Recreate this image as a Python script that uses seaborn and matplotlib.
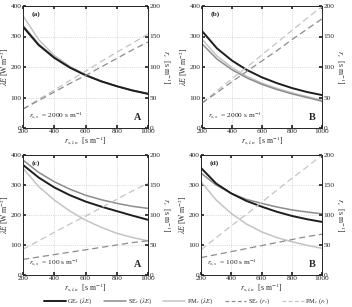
import numpy as np
import pandas as pd
import matplotlib
matplotlib.use("Agg")
import matplotlib.pyplot as plt
import seaborn as sns
from matplotlib.lines import Line2D

# ---------------- data ----------------
r_sln = [200, 300, 400, 500, 600, 700, 800, 900, 1000]

# panel (a)  r_ss = 2000, scheme A
a_GE_LE = [332, 272, 230, 198, 173, 153, 137, 123, 112]
a_SE_LE = [336, 275, 232, 199, 174, 154, 137, 124, 113]
a_PM_LE = [368, 290, 238, 202, 175, 154, 137, 123, 111]
a_SE_rc = [31, 45, 59, 73, 86, 100, 114, 128, 141]
a_PM_rc = [31, 47, 62, 78, 93, 109, 124, 139, 154]

# panel (b)  r_ss = 2000, scheme B
b_GE_LE = [318, 261, 221, 190, 166, 147, 131, 118, 108]
b_SE_LE = [276, 226, 191, 164, 143, 126, 112, 100, 88]
b_PM_LE = [291, 236, 198, 169, 147, 130, 115, 103, 91]
b_SE_rc = [41, 58, 76, 93, 110, 127, 145, 162, 179]
b_PM_rc = [41, 61, 81, 100, 120, 140, 160, 180, 199]

# panel (c)  r_ss = 100, scheme A
c_GE_LE = [367, 325, 292, 266, 245, 228, 213, 198, 184]
c_SE_LE = [383, 342, 311, 286, 266, 251, 239, 229, 222]
c_PM_LE = [356, 295, 250, 213, 183, 159, 139, 125, 114]
c_SE_rc = [26, 30, 34, 38, 42, 46, 50, 54, 57]
c_PM_rc = [43, 57, 71, 85, 98, 112, 126, 140, 153]

# panel (d)  r_ss = 100, scheme B
d_GE_LE = [357, 305, 272, 247, 228, 211, 197, 186, 177]
d_SE_LE = [340, 300, 272, 252, 239, 227, 217, 210, 204]
d_PM_LE = [311, 250, 205, 170, 144, 125, 111, 99, 89]
d_SE_rc = [29, 34, 39, 44, 49, 54, 59, 64, 68]
d_PM_rc = [42, 62, 82, 101, 121, 141, 161, 180, 200]

panel_letters = ["(a)", "(b)", "(c)", "(d)"]
scheme_labels = ["A", "B", "A", "B"]
rss_labels = ["2000", "2000", "100", "100"]
legend_labels = [r"GE$_c$ ($\lambda E$)", r"SE$_c$ ($\lambda E$)", r"PM$_c$ ($\lambda E$)",
                 r"SE$_c$ ($r_c$)", r"PM$_c$ ($r_c$)"]

panels = [
    (a_GE_LE, a_SE_LE, a_PM_LE, a_SE_rc, a_PM_rc),
    (b_GE_LE, b_SE_LE, b_PM_LE, b_SE_rc, b_PM_rc),
    (c_GE_LE, c_SE_LE, c_PM_LE, c_SE_rc, c_PM_rc),
    (d_GE_LE, d_SE_LE, d_PM_LE, d_SE_rc, d_PM_rc),
]

# ---------------- style ----------------
sns.set_theme(style="ticks")
plt.rcParams["font.family"] = ["Liberation Serif", "DejaVu Serif"]
plt.rcParams["mathtext.fontset"] = "stix"
plt.rcParams["xtick.direction"] = "in"
plt.rcParams["ytick.direction"] = "in"
plt.rcParams["xtick.major.size"] = 2
plt.rcParams["ytick.major.size"] = 2
plt.rcParams["axes.linewidth"] = 0.6

C_GE = "#1e1e1e"
C_SE = "#8c8c8c"
C_PM = "#c4c4c4"
FS = 5.3

fig = plt.figure(figsize=(3.52, 3.07), dpi=100)
W, H = 352.0, 307.0
rects = [
    (23, 6, 148, 128),
    (202, 6, 322, 128),
    (23, 155, 148, 275),
    (201, 155, 322, 275),
]

for i, (rect, series) in enumerate(zip(rects, panels)):
    x0, y0, x1, y1 = rect
    ax = fig.add_axes([x0 / W, 1 - y1 / H, (x1 - x0) / W, (y1 - y0) / H])
    ge, se, pm, se_rc, pm_rc = series
    df = pd.DataFrame({"x": r_sln, "GE": ge, "SE": se, "PM": pm,
                       "SErc": se_rc, "PMrc": pm_rc})
    ax.grid(True, linestyle=":", color="#bbbbbb", linewidth=0.5)
    sns.lineplot(data=df, x="x", y="PM", ax=ax, color=C_PM, lw=1.1)
    sns.lineplot(data=df, x="x", y="SE", ax=ax, color=C_SE, lw=1.1)
    sns.lineplot(data=df, x="x", y="GE", ax=ax, color=C_GE, lw=1.4)
    ax.set_xlim(200, 1000)
    ax.set_ylim(0, 400)
    ax.set_xticks([200, 400, 600, 800, 1000])
    ax.set_yticks([0, 100, 200, 300, 400])
    ax.tick_params(labelsize=FS, pad=1.0, top=True)
    ax.set_xlabel(r"$r_{s,l,n}$  [s m$^{-1}$]", fontsize=FS + 0.3, labelpad=0)
    ax.set_ylabel(r"$\lambda E$ [W m$^{-2}$]", fontsize=FS + 0.2, labelpad=-0.5)

    ax2 = ax.twinx()
    sns.lineplot(data=df, x="x", y="PMrc", ax=ax2, color=C_PM, lw=0.9,
                 linestyle=(0, (5, 3)))
    sns.lineplot(data=df, x="x", y="SErc", ax=ax2, color=C_SE, lw=0.9,
                 linestyle=(0, (5, 3)))
    ax2.set_ylim(0, 200)
    ax2.set_xlim(200, 1000)
    ax2.set_yticks([0, 50, 100, 150, 200])
    ax2.tick_params(labelsize=FS, pad=1.0)
    ax2.set_ylabel(r"$r_c$  [s m$^{-1}$]", fontsize=FS + 0.3, rotation=270,
                   labelpad=9)
    ax2.set_xlabel("")
    for sp in ax2.spines.values():
        sp.set_linewidth(0.6)

    ax.text(0.07, 0.96, panel_letters[i], transform=ax.transAxes, fontsize=FS,
            fontweight="bold", va="top", ha="left")
    ax.text(0.95, 0.05, scheme_labels[i], transform=ax.transAxes, fontsize=FS + 2,
            fontweight="bold", va="bottom", ha="right")
    ax.text(0.05, 0.05, r"$r_{s,s}$  = " + rss_labels[i] + r" s m$^{-1}$",
            transform=ax.transAxes, fontsize=FS, va="bottom", ha="left")

handles = [
    Line2D([], [], color=C_GE, lw=1.4),
    Line2D([], [], color=C_SE, lw=1.1),
    Line2D([], [], color=C_PM, lw=1.1),
    Line2D([], [], color=C_SE, lw=0.9, linestyle=(0, (3, 2))),
    Line2D([], [], color=C_PM, lw=0.9, linestyle=(0, (3, 2))),
]
fig.legend(handles, legend_labels, loc="center", bbox_to_anchor=(0.53, 0.018),
           ncol=5, frameon=False, fontsize=4.6, handlelength=3.4,
           columnspacing=1.8, handletextpad=0.3, borderpad=0, borderaxespad=0)

fig.savefig("out.png", dpi=100)
